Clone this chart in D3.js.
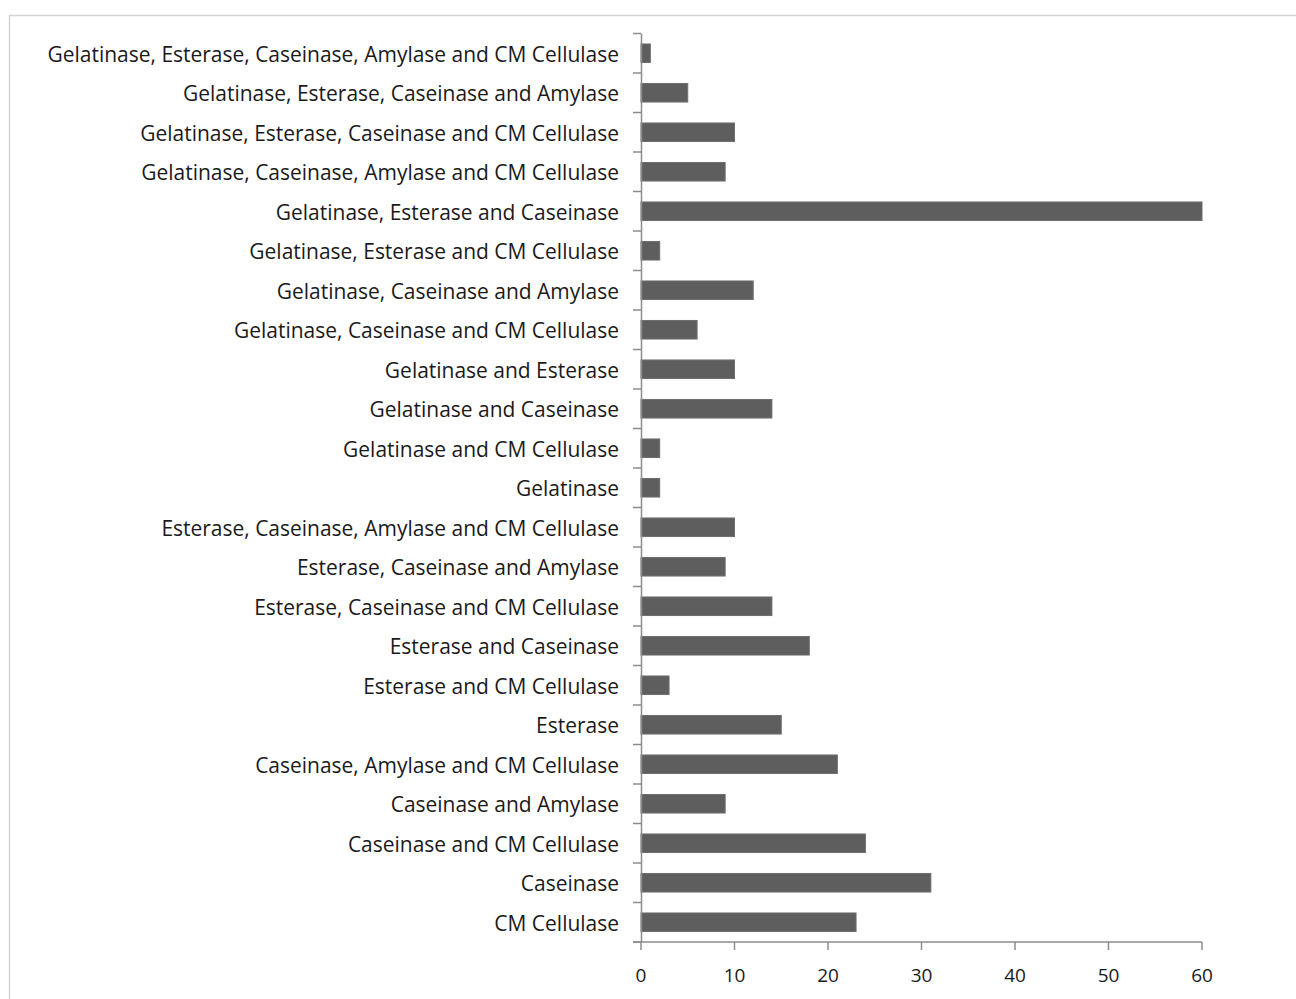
<!DOCTYPE html>
<html><head><meta charset="utf-8">
<script src="https://cdn.jsdelivr.net/npm/d3@7/dist/d3.min.js"></script>
<style>body{margin:0;background:#fff;} svg{display:block;}</style>
</head><body>
<svg id="c" width="1296" height="999"></svg>
<script>
const categories = [
  "Gelatinase, Esterase, Caseinase, Amylase and CM Cellulase",
  "Gelatinase, Esterase, Caseinase and Amylase",
  "Gelatinase, Esterase, Caseinase and CM Cellulase",
  "Gelatinase, Caseinase, Amylase and CM Cellulase",
  "Gelatinase, Esterase and Caseinase",
  "Gelatinase, Esterase and CM Cellulase",
  "Gelatinase, Caseinase and Amylase",
  "Gelatinase, Caseinase and CM Cellulase",
  "Gelatinase and Esterase",
  "Gelatinase and Caseinase",
  "Gelatinase and CM Cellulase",
  "Gelatinase",
  "Esterase, Caseinase, Amylase and CM Cellulase",
  "Esterase, Caseinase and Amylase",
  "Esterase, Caseinase and CM Cellulase",
  "Esterase and Caseinase",
  "Esterase and CM Cellulase",
  "Esterase",
  "Caseinase, Amylase and CM Cellulase",
  "Caseinase and Amylase",
  "Caseinase and CM Cellulase",
  "Caseinase",
  "CM Cellulase"
];
const values = [1, 5, 10, 9, 60, 2, 12, 6, 10, 14, 2, 2, 10, 9, 14, 18, 3, 15, 21, 9, 24, 31, 23];
const xTicks = [0, 10, 20, 30, 40, 50, 60];

(function () {
const svg = d3.select("#c");
svg.append("rect").attr("x", 9.5).attr("y", 15.5).attr("width", 1296).attr("height", 1000)
  .attr("fill", "none").attr("stroke", "#d4d4d4").attr("stroke-width", 1.5);

const pL = 641, pR = 1202, pT = 33.5, pB = 942;
const x = d3.scaleLinear().domain([0, 60]).range([pL, pR]);
const y = d3.scaleBand().domain(categories).range([pT, pB]).paddingInner(0.53).paddingOuter(0.265);
const yb = d3.scaleBand().domain(categories).range([pT, pB]);

svg.append("g").selectAll("rect").data(categories).join("rect")
  .attr("x", x(0)).attr("y", d => y(d))
  .attr("width", (d, i) => x(values[i]) - x(0))
  .attr("height", y.bandwidth())
  .attr("fill", "#5e5e5e").attr("stroke", "#6e6e6e").attr("stroke-width", 1);

const axisColor = "#8c8c8c";
svg.append("line").attr("x1", pL + 0.5).attr("x2", pL + 0.5).attr("y1", pT).attr("y2", pB)
  .attr("stroke", axisColor).attr("stroke-width", 1.5);
const yTickPos = categories.map(d => yb(d)).concat([pB]);
svg.append("g").selectAll("line").data(yTickPos).join("line")
  .attr("x1", pL - 8).attr("x2", pL).attr("y1", d => d).attr("y2", d => d)
  .attr("stroke", axisColor).attr("stroke-width", 1.5);

svg.append("line").attr("x1", pL - 8).attr("x2", pR).attr("y1", pB).attr("y2", pB)
  .attr("stroke", axisColor).attr("stroke-width", 1.5);
svg.append("g").selectAll("line").data(xTicks).join("line")
  .attr("x1", d => x(d)).attr("x2", d => x(d)).attr("y1", pB).attr("y2", pB + 8)
  .attr("stroke", axisColor).attr("stroke-width", 1.5);
svg.append("g").selectAll("text").data(xTicks).join("text")
  .attr("x", d => x(d)).attr("y", 982).attr("text-anchor", "middle")
  .attr("font-family", "Open Sans").attr("font-size", 19).attr("fill", "#1a1a1a")
  .text(d => d);

const labels = svg.append("g").selectAll("text").data(categories).join("text")
  .attr("x", 619).attr("y", d => yb(d) + yb.bandwidth() / 2 + 8.5)
  .attr("text-anchor", "end")
  .attr("font-family", "Open Sans").attr("font-size", 18).attr("fill", "#1a1a1a")
  .text(d => d);
const w = labels.nodes()[0].getComputedTextLength();
const fs = 18 * 572 / w;
labels.attr("font-size", fs);
})();
</script>
</body></html>
